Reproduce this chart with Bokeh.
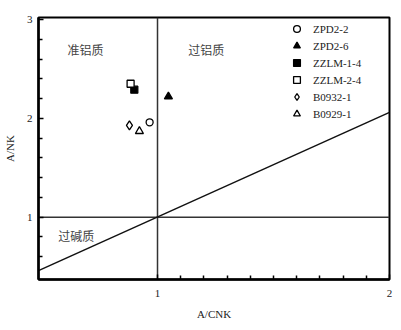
from bokeh.plotting import figure
from bokeh.models import FixedTicker, Legend, LegendItem, Range1d
from bokeh.core.properties import value
from bokeh.embed import file_html
from bokeh.resources import INLINE

# Sample data (A/CNK, A/NK)
samples = ["ZPD2-2", "ZPD2-6", "ZZLM-1-4", "ZZLM-2-4", "B0932-1", "B0929-1"]
acnk = [0.966, 1.047, 0.900, 0.884, 0.879, 0.922]
anK = [1.96, 2.22, 2.29, 2.35, 1.93, 1.87]
markers = ["circle", "triangle", "square", "square", "diamond", "triangle"]
sizes = [7, 8, 7, 7, 9, 8]
filled = [False, True, True, False, False, False]

# Field boundaries
vline_x = [1.0, 1.0]
vline_y = [0.37, 3.02]
hline_x = [0.487, 2.0]
hline_y = [1.0, 1.0]
diag_x = [0.487, 2.0]
diag_y = [0.46, 2.06]

# Field labels
field_names = ["准铝质", "过铝质", "过碱质"]
field_x = [0.69, 1.21, 0.65]
field_y = [2.70, 2.70, 0.82]

x_major = [1, 2]
x_minor = [1.1, 1.2, 1.3, 1.4, 1.5, 1.6, 1.7, 1.8, 1.9]
y_major = [1, 2, 3]
y_minor = [0.6, 0.8, 1.2, 1.4, 1.6, 1.8, 2.2, 2.4, 2.6, 2.8]

SERIF = "Liberation Serif"
CJK = "Noto Sans CJK SC"

p = figure(width=393, height=322, frame_width=351, frame_height=262,
           output_backend="svg", toolbar_location=None,
           x_range=Range1d(0.487, 2.0), y_range=Range1d(0.37, 3.02),
           min_border_left=38, min_border_right=4, min_border_top=17, min_border_bottom=43)
p.background_fill_color = "white"
p.border_fill_color = "white"
p.grid.visible = False
p.outline_line_color = "black"
p.outline_line_width = 2

for ax, maj, mino in ((p.xaxis[0], x_major, x_minor), (p.yaxis[0], y_major, y_minor)):
    ax.ticker = FixedTicker(ticks=maj, minor_ticks=mino)
    ax.major_tick_in = 5
    ax.major_tick_out = 0
    ax.minor_tick_in = 4
    ax.minor_tick_out = 0
    ax.axis_line_width = 2.5
    ax.axis_line_color = "black"
    ax.major_tick_line_width = 1.5
    ax.minor_tick_line_width = 1.5
    ax.major_label_text_font = SERIF
    ax.major_label_text_font_size = "11px"
    ax.major_label_text_color = "#222222"
    ax.axis_label_text_font = SERIF
    ax.axis_label_text_font_size = "11px"
    ax.axis_label_text_font_style = "normal"
    ax.axis_label_text_color = "#222222"

p.xaxis.axis_label = "A/CNK"
p.yaxis.axis_label = "A/NK"
p.xaxis.major_label_standoff = 10
p.xaxis.axis_label_standoff = 8
p.yaxis.major_label_standoff = 6
p.yaxis.axis_label_standoff = 8

p.line(vline_x, vline_y, line_color="#333333", line_width=1.5)
p.line(hline_x, hline_y, line_color="#333333", line_width=1.5)
p.line(diag_x, diag_y, line_color="#111111", line_width=1.5)

p.text(field_x, field_y, text=field_names, text_font=value(CJK), text_font_size="12px",
       text_color="#444444", text_align="center", text_baseline="middle")

items = []
for name, x, y, m, s, f in zip(samples, acnk, anK, markers, sizes, filled):
    r = p.scatter([x], [y], marker=m, size=s, line_color="black", line_width=1.3,
                  fill_color="black" if f else "white")
    items.append(LegendItem(label=name, renderers=[r]))

legend = Legend(items=items, location=(250, 157), padding=0, margin=0, spacing=0,
                glyph_height=17, glyph_width=17, label_height=17, label_standoff=8,
                label_text_font=SERIF, label_text_font_size="11px", label_text_color="#222222",
                border_line_color=None, background_fill_alpha=0)
p.add_layout(legend, "center")

open("out.html", "w").write(file_html(p, INLINE))
